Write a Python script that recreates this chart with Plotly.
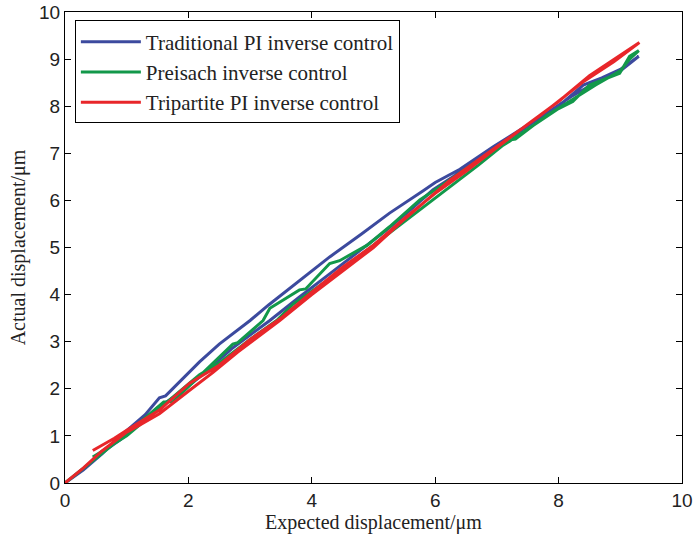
import plotly.graph_objects as go

# Traditional PI inverse control (ascending then descending branch)
blue_x = [0, 0.3, 0.6, 1.0, 1.3, 1.53, 1.63, 1.9, 2.18, 2.5, 2.8, 3.0, 3.3, 3.8, 4.29, 4.8, 5.26, 5.8, 6.0, 6.4, 6.94, 7.5, 8.0, 8.4, 8.7, 9.0, 9.3,
          9.0, 8.6, 8.2, 7.8, 7.3, 6.8, 6.4, 5.96, 5.6, 5.21, 4.8, 4.3, 3.8, 3.32, 2.7, 2.18, 1.8, 1.5, 1.2, 0.9, 0.6, 0.45]
blue_y = [0, 0.28, 0.62, 1.11, 1.45, 1.81, 1.85, 2.2, 2.57, 2.95, 3.25, 3.45, 3.78, 4.3, 4.8, 5.28, 5.73, 6.2, 6.38, 6.66, 7.14, 7.6, 8.0, 8.45, 8.6, 8.78, 9.06,
          8.75, 8.5, 8.2, 7.85, 7.4, 7.0, 6.6, 6.22, 5.8, 5.37, 4.95, 4.45, 3.95, 3.45, 2.85, 2.25, 1.85, 1.6, 1.25, 0.92, 0.65, 0.5]

# Preisach inverse control
green_x = [0, 0.5, 1.0, 1.3, 1.53, 1.6, 1.75, 2.2, 2.72, 2.8, 3.21, 3.32, 3.8, 3.9, 4.29, 4.45, 4.9, 5.26, 5.75, 6.2, 6.7, 7.2, 7.6, 8.0, 8.23, 8.5, 8.99, 9.15, 9.3,
           9.15, 9.0, 8.6, 8.2, 7.8, 7.3, 7.2, 6.7, 6.2, 5.7, 5.2, 4.7, 4.2, 3.7, 3.43, 3.0, 2.5, 2.18, 1.8, 1.5, 1.0, 0.45]
green_y = [0, 0.52, 1.05, 1.38, 1.65, 1.72, 1.73, 2.3, 2.95, 2.98, 3.45, 3.71, 4.1, 4.12, 4.66, 4.72, 5.05, 5.44, 6.01, 6.4, 6.85, 7.25, 7.6, 7.95, 8.1, 8.45, 8.7, 9.06, 9.18,
           9.0, 8.75, 8.45, 8.12, 7.8, 7.3, 7.28, 6.75, 6.25, 5.75, 5.25, 4.75, 4.25, 3.8, 3.45, 3.05, 2.55, 2.3, 1.88, 1.55, 1.0, 0.55]

# Tripartite PI inverse control
red_x = [0, 0.3, 0.6, 1.0, 1.2, 1.53, 2.02, 2.4, 2.8, 3.48, 4.0, 4.5, 5.0, 5.5, 6.24, 6.9, 7.69, 8.4, 8.9, 9.31,
         9.0, 8.5, 8.0, 7.5, 7.0, 6.5, 6.0, 5.5, 5.0, 4.5, 4.0, 3.5, 3.0, 2.5, 2.02, 1.53, 1.0, 0.8, 0.45]
red_y = [0, 0.32, 0.68, 1.08, 1.22, 1.47, 1.97, 2.35, 2.78, 3.45, 4.0, 4.5, 5.0, 5.6, 6.43, 7.05, 7.79, 8.52, 8.95, 9.35,
         9.08, 8.65, 8.1, 7.62, 7.12, 6.62, 6.15, 5.62, 5.05, 4.58, 4.05, 3.5, 3.05, 2.5, 2.12, 1.55, 1.12, 0.95, 0.69]

x_ticks = [0, 2, 4, 6, 8, 10]
y_ticks = [0, 1, 2, 3, 4, 5, 6, 7, 8, 9, 10]

serif = "Liberation Serif"
sans = "Liberation Sans"

fig = go.Figure()
fig.add_trace(go.Scatter(x=blue_x, y=blue_y, mode="lines", name="Traditional PI inverse control",
                         line=dict(color="#3C4A9E", width=3)))
fig.add_trace(go.Scatter(x=green_x, y=green_y, mode="lines", name="Preisach inverse control",
                         line=dict(color="#12984A", width=3)))
fig.add_trace(go.Scatter(x=red_x, y=red_y, mode="lines", name="Tripartite PI inverse control",
                         line=dict(color="#E8262A", width=3)))

axis_common = dict(showline=True, linecolor="black", linewidth=1, mirror="ticks", ticks="inside",
                   ticklen=6, tickcolor="black", showgrid=False, zeroline=False, automargin=False,
                   tickfont=dict(family=sans, size=19, color="#222"))
fig.update_xaxes(range=[0, 10], tickvals=x_ticks,
                 title=dict(text="Expected displacement/μm", font=dict(family=serif, size=20, color="#222"), standoff=4),
                 **axis_common)
fig.update_yaxes(range=[0, 10], tickvals=y_ticks,
                 title=dict(text="Actual displacement/μm", font=dict(family=serif, size=20, color="#222"), standoff=8),
                 **axis_common)

fig.update_layout(
    width=694, height=537,
    margin=dict(l=65, r=12, t=12, b=54),
    plot_bgcolor="white", paper_bgcolor="white",
    legend=dict(x=0.016, y=0.982, xanchor="left", yanchor="top",
                bordercolor="black", borderwidth=1, bgcolor="white",
                font=dict(family=serif, size=21, color="#222"), itemwidth=60, tracegroupgap=0),
)

fig.write_html("out.html", config={"displayModeBar": False},
               post_script="document.body.style.margin='0';document.body.style.overflow='hidden';")
